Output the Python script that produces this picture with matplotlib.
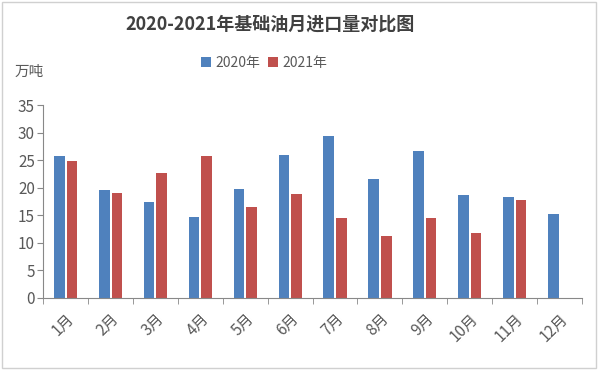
import numpy as np
import matplotlib.pyplot as plt
from matplotlib.patches import Rectangle

plt.rcParams['font.family'] = ['Noto Sans CJK SC', 'DejaVu Sans']

# monthly base oil imports, 10k tonnes
months = ["1月", "2月", "3月", "4月", "5月", "6月", "7月", "8月", "9月", "10月", "11月", "12月"]
imports_2020 = [25.8, 19.5, 17.4, 14.7, 19.7, 26.0, 29.4, 21.6, 26.6, 18.6, 18.3, 15.2]
imports_2021 = [24.9, 19.1, 22.7, 25.8, 16.5, 18.9, 14.5, 11.2, 14.5, 11.7, 17.7]

BLUE = "#4F81BD"
RED = "#C0504D"
GREY = "#595959"

fig = plt.figure(figsize=(6, 3.7), dpi=100)
ax = fig.add_axes([0.072, 0.195, 0.898, 0.521])

x = np.arange(len(months))
w = 0.235
ax.bar(x - 0.14, imports_2020, width=w, color=BLUE, label="2020年")
ax.bar(x[:len(imports_2021)] + 0.14, imports_2021, width=w, color=RED, label="2021年")

ax.set_xlim(-0.5, len(months) - 0.5)
ax.set_ylim(0, 35)
ax.set_yticks(range(0, 36, 5))
ax.set_xticks(x)
ax.set_xticklabels(months, rotation=45, ha="right", rotation_mode="anchor",
                   fontsize=11, color=GREY)
ax.tick_params(axis="x", length=0, pad=9)
ax.set_xticks(np.arange(-0.5, len(months), 1), minor=True)
ax.tick_params(axis="x", which="minor", length=4, color="#888888", direction="out")
ax.tick_params(axis="y", labelsize=11, labelcolor=GREY, length=4, color="#888888", pad=2)

for s in ["top", "right"]:
    ax.spines[s].set_visible(False)
for s in ["left", "bottom"]:
    ax.spines[s].set_color("#888888")
    ax.spines[s].set_linewidth(0.8)

fig.text(0.45, 0.935, "2020-2021年基础油月进口量对比图", ha="center", va="center",
         fontsize=13, fontweight="bold", color="#404040")
fig.text(0.025, 0.805, "万吨", ha="left", va="center", fontsize=10.5, color=GREY)
fig.legend(loc="center", bbox_to_anchor=(0.44, 0.83), ncol=2, frameon=False,
           fontsize=10, handlelength=0.7, handleheight=0.7, handletextpad=0.3,
           columnspacing=0.6, labelcolor=GREY)

# light frame around the whole chart
fig.patches.append(Rectangle((0.004, 0.006), 0.99, 0.988, transform=fig.transFigure,
                             fill=False, edgecolor="#d0d0d0", linewidth=1))

fig.savefig("out.png", dpi=100)
